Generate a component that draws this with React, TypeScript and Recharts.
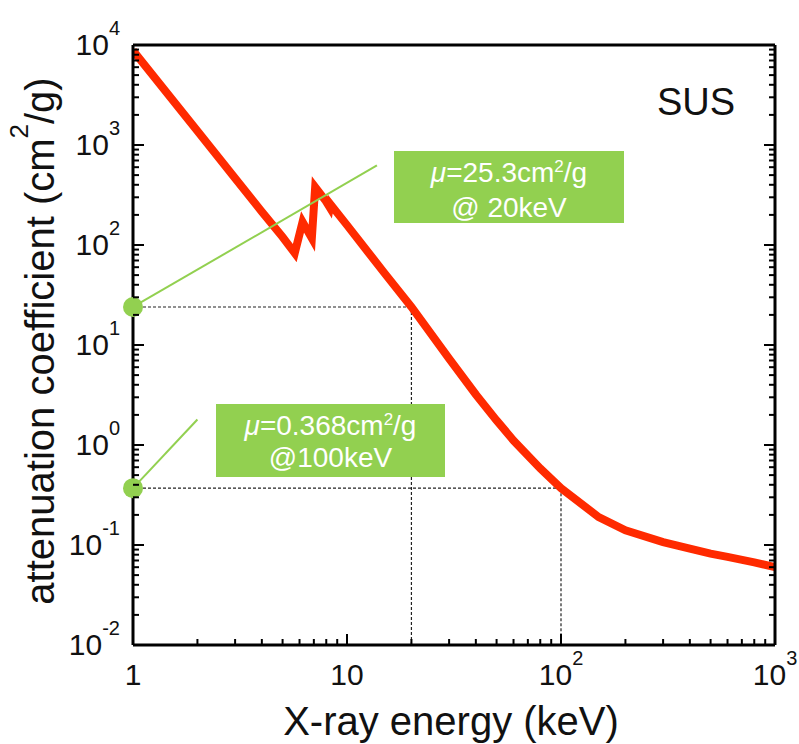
import { LineChart, Line, XAxis, YAxis, ReferenceLine, ReferenceDot } from 'recharts';

// mass attenuation coefficient of SUS
const ENERGY_KEV = [1, 2, 3, 4, 5, 5.7, 6.2, 6.85, 7.1, 7.9, 8.3, 8.35, 10, 15, 20, 30, 40, 50, 60, 80, 100, 150, 200, 300, 400, 500, 600, 800, 1000];
const MU_CM2_G = [8800, 1380, 465, 215, 120, 83, 170, 117, 380, 282, 238, 257, 158, 52, 24, 7.3, 3.2, 1.76, 1.11, 0.583, 0.37, 0.19, 0.14, 0.107, 0.092, 0.082, 0.076, 0.067, 0.06];

// marked read-outs (energy, mu) and the end of each green leader line
const MARK_ENERGY = [20, 100];
const MARK_MU = [24, 0.37];
const LEADER_END_ENERGY = [13.8, 2.0];
const LEADER_END_MU = [624, 1.8];

const X_DECADES = [1, 10, 100, 1000];
const Y_DECADES = [0.01, 0.1, 1, 10, 100, 1000, 10000];
const MINOR_STEPS = [1, 2, 3, 4, 5, 6, 7, 8, 9];
const X_TICK_BASE = ['1', '10', '10', '10'];
const X_TICK_EXP = ['', '', '2', '3'];
const Y_TICK_EXP = ['-2', '-1', '0', '1', '2', '3', '4'];

const BOX_LINE1_VALUE = ['=25.3cm', '=0.368cm'];
const BOX_LINE2 = ['@ 20keV', '@100keV'];

const W = 799;
const H = 744;
const RED = '#ff2a00';
const GREEN = '#92d050';
const FONT = '"Liberation Sans", Arial, Helvetica, sans-serif';

const data = ENERGY_KEV.map((energy, i) => ({ energy, mu: MU_CM2_G[i] }));

const withMinors = (decades: number[]) => {
  const out: number[] = [];
  decades.forEach((d, i) => {
    if (i === decades.length - 1) out.push(d);
    else MINOR_STEPS.forEach((m) => out.push(+(d * m).toPrecision(6)));
  });
  return out;
};
const X_TICKS = withMinors(X_DECADES);
const Y_TICKS = withMinors(Y_DECADES);

const isMajor = (v: number) => Math.abs(Math.log10(v) - Math.round(Math.log10(v))) < 1e-6;
const tickLen = (v: number) => (isMajor(v) ? 11 : 6);

function BottomTick({ x, y, payload }: any) {
  const v = payload.value;
  const i = X_DECADES.findIndex((d) => Math.abs(d - v) < 1e-9);
  return (
    <g>
      <line x1={x} x2={x} y1={y} y2={y - tickLen(v)} stroke="#000" strokeWidth={2} />
      {i >= 0 && (
        <text x={x} y={y + 40} textAnchor="middle" fontSize={30} fill="#111" fontFamily={FONT}>
          {X_TICK_BASE[i]}
          {X_TICK_EXP[i] && (
            <tspan dy={-20} fontSize={20}>
              {X_TICK_EXP[i]}
            </tspan>
          )}
        </text>
      )}
    </g>
  );
}

function TopTick({ x, y, payload }: any) {
  return <line x1={x} x2={x} y1={y} y2={y + tickLen(payload.value)} stroke="#000" strokeWidth={2} />;
}

function LeftTick({ x, y, payload }: any) {
  const v = payload.value;
  const i = Y_DECADES.findIndex((d) => Math.abs(d - v) < 1e-12);
  return (
    <g>
      <line x1={x} x2={x + tickLen(v)} y1={y} y2={y} stroke="#000" strokeWidth={2} />
      {i >= 0 && (
        <text x={x - 13} y={y + 10} textAnchor="end" fontSize={30} fill="#111" fontFamily={FONT}>
          10
          <tspan dy={-20} fontSize={20}>
            {Y_TICK_EXP[i]}
          </tspan>
        </text>
      )}
    </g>
  );
}

function RightTick({ x, y, payload }: any) {
  return <line x1={x} x2={x - tickLen(payload.value)} y1={y} y2={y} stroke="#000" strokeWidth={2} />;
}

const axisLine = { stroke: '#000', strokeWidth: 3 };

function Annotations() {
  const boxes = [
    { x: 394, y: 151, w: 230, h: 72 },
    { x: 216, y: 404, w: 229, h: 73 },
  ];
  return (
    <svg width={W} height={H} style={{ position: 'absolute', left: 0, top: 0, pointerEvents: 'none' }} fontFamily={FONT}>
      <text transform="translate(54,341) rotate(-90)" textAnchor="middle" fontSize={40} fill="#111">
        attenuation coefficient (cm
        <tspan dy={-26} fontSize={26}>
          2
        </tspan>
        <tspan dy={26}>/g)</tspan>
      </text>
      <text x={451} y={735} textAnchor="middle" fontSize={40} fill="#111">
        X-ray energy (keV)
      </text>
      <text x={657} y={115} fontSize={38} fill="#111">
        SUS
      </text>
      {boxes.map((b, i) => (
        <g key={i}>
          <rect x={b.x} y={b.y} width={b.w} height={b.h} fill={GREEN} />
          <text x={b.x + b.w / 2} y={b.y + 31} textAnchor="middle" fontSize={28} fill="#fff">
            <tspan fontStyle="italic">μ</tspan>
            {BOX_LINE1_VALUE[i]}
            <tspan dy={-10} fontSize={17}>
              2
            </tspan>
            <tspan dy={10}>/g</tspan>
          </text>
          <text x={b.x + b.w / 2} y={b.y + (i === 0 ? 66 : 63)} textAnchor="middle" fontSize={28} fill="#fff">
            {BOX_LINE2[i]}
          </text>
        </g>
      ))}
    </svg>
  );
}

export default function App() {
  return (
    <div style={{ position: 'absolute', left: 0, top: 0, width: W, height: H, background: '#fff' }}>
      <LineChart width={W} height={H} data={data} margin={{ top: 44, right: 23, bottom: 98, left: 132 }}>
        <XAxis
          xAxisId="b"
          dataKey="energy"
          type="number"
          scale="log"
          domain={[1, 1000]}
          allowDataOverflow
          ticks={X_TICKS}
          interval={0}
          height={1}
          tickSize={0}
          tickMargin={0}
          tickLine={false}
          axisLine={axisLine}
          tick={(p: any) => <BottomTick {...p} />}
        />
        <XAxis
          xAxisId="t"
          orientation="top"
          type="number"
          scale="log"
          domain={[1, 1000]}
          allowDataOverflow
          ticks={X_TICKS}
          interval={0}
          height={1}
          tickSize={0}
          tickMargin={0}
          tickLine={false}
          axisLine={axisLine}
          tick={(p: any) => <TopTick {...p} />}
        />
        <YAxis
          yAxisId="l"
          type="number"
          scale="log"
          domain={[0.01, 10000]}
          allowDataOverflow
          ticks={Y_TICKS}
          interval={0}
          width={1}
          tickSize={0}
          tickMargin={0}
          tickLine={false}
          axisLine={axisLine}
          tick={(p: any) => <LeftTick {...p} />}
        />
        <YAxis
          yAxisId="r"
          orientation="right"
          type="number"
          scale="log"
          domain={[0.01, 10000]}
          allowDataOverflow
          ticks={Y_TICKS}
          interval={0}
          width={1}
          tickSize={0}
          tickMargin={0}
          tickLine={false}
          axisLine={axisLine}
          tick={(p: any) => <RightTick {...p} />}
        />
        {MARK_ENERGY.map((e, i) => (
          <ReferenceLine
            key={`h${i}`}
            xAxisId="b"
            yAxisId="l"
            segment={[
              { x: 1, y: MARK_MU[i] },
              { x: e, y: MARK_MU[i] },
            ]}
            stroke="#222"
            strokeWidth={1.2}
            strokeDasharray="3 2"
          />
        ))}
        {MARK_ENERGY.map((e, i) => (
          <ReferenceLine
            key={`v${i}`}
            xAxisId="b"
            yAxisId="l"
            segment={[
              { x: e, y: MARK_MU[i] },
              { x: e, y: 0.01 },
            ]}
            stroke="#222"
            strokeWidth={1.2}
            strokeDasharray="3 2"
          />
        ))}
        <Line
          xAxisId="b"
          yAxisId="l"
          dataKey="mu"
          type="linear"
          stroke={RED}
          strokeWidth={8}
          dot={false}
          isAnimationActive={false}
        />
        {MARK_MU.map((m, i) => (
          <ReferenceLine
            key={`g${i}`}
            xAxisId="b"
            yAxisId="l"
            segment={[
              { x: 1, y: m },
              { x: LEADER_END_ENERGY[i], y: LEADER_END_MU[i] },
            ]}
            stroke={GREEN}
            strokeWidth={2}
          />
        ))}
        {MARK_MU.map((m, i) => (
          <ReferenceDot key={`d${i}`} xAxisId="b" yAxisId="l" x={1} y={m} r={10} fill={GREEN} stroke="none" />
        ))}
      </LineChart>
      <Annotations />
    </div>
  );
}
